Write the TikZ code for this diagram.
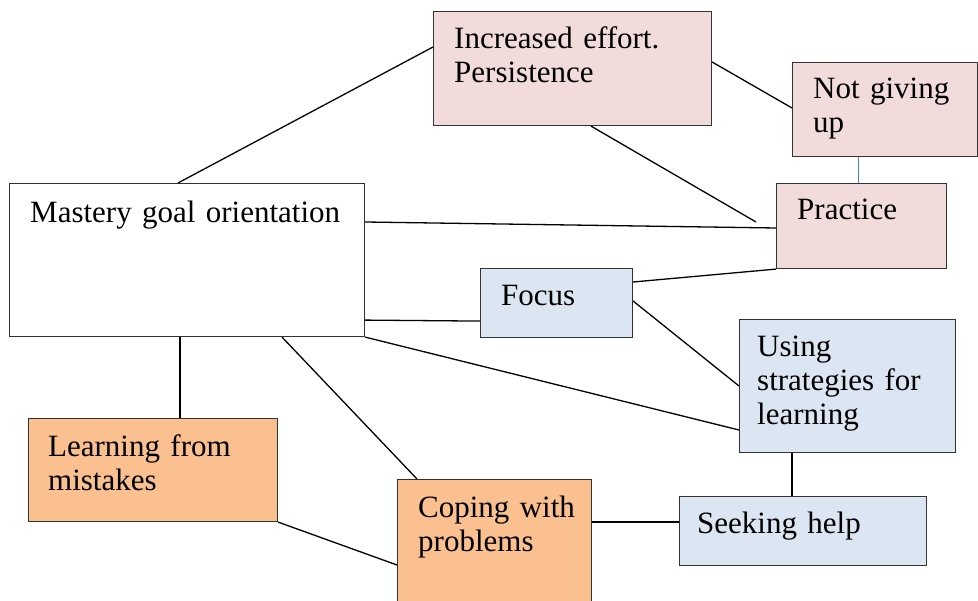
\documentclass[tikz,border=0pt]{standalone}
\usepackage{fontspec}
\setmainfont{Liberation Serif}
\definecolor{pinkf}{HTML}{F2DCDB}
\definecolor{bluef}{HTML}{DCE6F2}
\definecolor{orangef}{HTML}{FAC090}
\definecolor{edgec}{HTML}{333333}
\definecolor{thinblue}{HTML}{4F81BD}
\tikzset{
  boxshape/.style={draw=edgec, line width=1.1pt, rectangle, inner sep=0pt, anchor=north west},
  lbl/.style={anchor=base west, inner sep=0pt, text width=#1, align=left, font=\fontsize{31}{34}\selectfont},
  link/.style={draw=black, line width=1.3pt},
}
\begin{document}
\begin{tikzpicture}[x=1pt,y=1pt]
\useasboundingbox (0,0) rectangle (978,-601);
% boxes
\node[boxshape, fill=pinkf, minimum width=278pt, minimum height=114pt] (inc) at (433,-11) {};
\node[boxshape, fill=pinkf, minimum width=185pt, minimum height=94pt] (ngu) at (792,-62) {};
\node[boxshape, fill=white, minimum width=355pt, minimum height=153pt] (mas) at (9,-183) {};
\node[boxshape, fill=pinkf, minimum width=170pt, minimum height=85pt] (pra) at (776,-183) {};
\node[boxshape, fill=bluef, minimum width=152pt, minimum height=69pt] (foc) at (480,-268) {};
\node[boxshape, fill=bluef, minimum width=216pt, minimum height=133pt] (use) at (739,-319) {};
\node[boxshape, fill=orangef, minimum width=249pt, minimum height=103pt] (lrn) at (28,-418) {};
\node[boxshape, fill=orangef, minimum width=194pt, minimum height=130pt] (cop) at (397,-479) {};
\node[boxshape, fill=bluef, minimum width=247pt, minimum height=69pt] (see) at (679,-496) {};
% labels
\node[lbl=250pt] (tinc) at (454,-49) {Increased effort.\\Persistence};
\node[lbl=160pt] (tngu) at (813,-99) {Not giving\\up};
\node[lbl=340pt] (tmas) at (30,-223) {Mastery goal orientation};
\node[lbl=140pt] (tpra) at (797,-220) {Practice};
\node[lbl=120pt] (tfoc) at (501,-306) {Focus};
\node[lbl=195pt] (tuse) at (757,-357) {Using\\strategies for\\learning};
\node[lbl=220pt] (tlrn) at (48,-457) {Learning from\\mistakes};
\node[lbl=170pt] (tcop) at (418,-518) {Coping with\\problems};
\node[lbl=220pt] (tsee) at (697,-533) {Seeking help};
% free end near Practice
\coordinate (incend) at ([xshift=-20pt,yshift=-39pt]pra.north west);
% connectors
\draw[link] ([xshift=169pt]mas.north west) -- ([yshift=-36pt]inc.north west);
\draw[link] ([yshift=-51pt]inc.north east) -- ([yshift=-46pt]ngu.north west);
\draw[link] ([xshift=158pt]inc.south west) -- (incend);
\draw[link] ([yshift=-39pt]mas.north east) -- ([yshift=-45pt]pra.north west);
\draw[thinblue, line width=0.7pt] ([xshift=66pt]ngu.south west) -- ([xshift=82pt]pra.north west);
\draw[link] ([yshift=-14pt]foc.north east) -- (pra.south west);
\draw[link] ([yshift=17pt]mas.south east) -- ([yshift=17pt]foc.south west);
\draw[link] ([yshift=-33pt]foc.north east) -- ([yshift=-67pt]use.north west);
\draw[link] (mas.south east) -- ([yshift=-111pt]use.north west);
\draw[link] ([xshift=171pt]mas.south west) -- ([xshift=152pt]lrn.north west);
\draw[link] ([xshift=273pt]mas.south west) -- ([xshift=20pt]cop.north west);
\draw[link] (lrn.south east) -- ([yshift=-86pt]cop.north west);
\draw[link] ([yshift=-43pt]cop.north east) -- ([yshift=-26pt]see.north west);
\draw[link] ([xshift=53pt]use.south west) -- ([xshift=113pt]see.north west);
\end{tikzpicture}
\end{document}
